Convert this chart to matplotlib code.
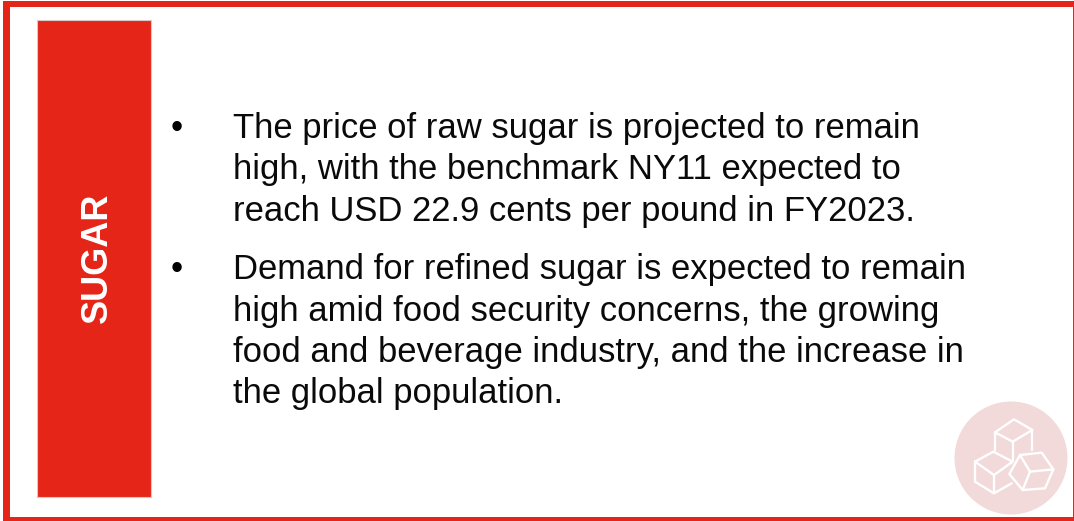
import matplotlib
matplotlib.use('Agg')
import matplotlib.pyplot as plt
from matplotlib.patches import Rectangle, Circle

RED = '#e42518'

title = 'SUGAR'
bullets = [
    ['The price of raw sugar is projected to remain',
     'high, with the benchmark NY11 expected to',
     'reach USD 22.9 cents per pound in FY2023.'],
    ['Demand for refined sugar is expected to remain',
     'high amid food security concerns, the growing',
     'food and beverage industry, and the increase in',
     'the global population.'],
]
line_rows = [[138, 179.5, 221], [279, 320.5, 362, 403]]

plt.rcParams['font.family'] = ['Liberation Sans', 'DejaVu Sans']

fig = plt.figure(figsize=(10.74, 5.21), dpi=100)
ax = fig.add_axes([0, 0, 1, 1])
ax.set_xlim(0, 1074)
ax.set_ylim(521, 0)
ax.axis('off')

# outer frame, drawn as four strips
ax.add_patch(Rectangle((3, 1), 1071, 6, fc=RED, ec='none'))
ax.add_patch(Rectangle((3, 1), 6.5, 520, fc=RED, ec='none'))
ax.add_patch(Rectangle((3, 516.5), 1071, 4.5, fc=RED, ec='none'))
ax.add_patch(Rectangle((1072.8, 1), 1.2, 520, fc=RED, ec='none'))

# side panel
ax.add_patch(Rectangle((36.5, 19.5), 114.5, 477.5, fc=RED, ec='#d9c9c7', lw=0.8))
ax.text(97, 257.5, title, color='white', fontsize=26, fontweight='bold',
        rotation=90, ha='center', va='center')

# bullets, on the baseline so every row sits at the same offset
for group, rows in zip(bullets, line_rows):
    ax.text(177, rows[0], '\u2022', fontsize=25, color='black', ha='center', va='baseline')
    for line, y in zip(group, rows):
        ax.text(233, y, line, fontsize=24.9, color='#0a0a0a', ha='left', va='baseline')

# sugar cube icon
ax.add_patch(Circle((1011, 458), 56.5, fc='#f2d9da', ec='none'))


def icon(points):
    xs = [940 + p[0] / 3 for p in points]
    ys = [400 + p[1] / 3 for p in points]
    ax.plot(xs, ys, color='white', lw=1.7, solid_capstyle='round', solid_joinstyle='round')


icon([(165, 150), (165, 97), (222, 58), (277, 90), (218, 125), (165, 97)])
icon([(218, 125), (218, 180)])
icon([(277, 90), (277, 150)])
icon([(105, 185), (160, 155), (218, 185), (162, 225), (105, 185), (105, 245), (162, 280), (215, 250)])
icon([(162, 225), (162, 280)])
icon([(240, 165), (305, 158), (340, 208), (315, 265), (248, 270), (208, 222), (240, 165)])
icon([(240, 165), (270, 215), (340, 208)])
icon([(270, 215), (248, 270)])

fig.savefig('out.png', dpi=100, facecolor='white')
